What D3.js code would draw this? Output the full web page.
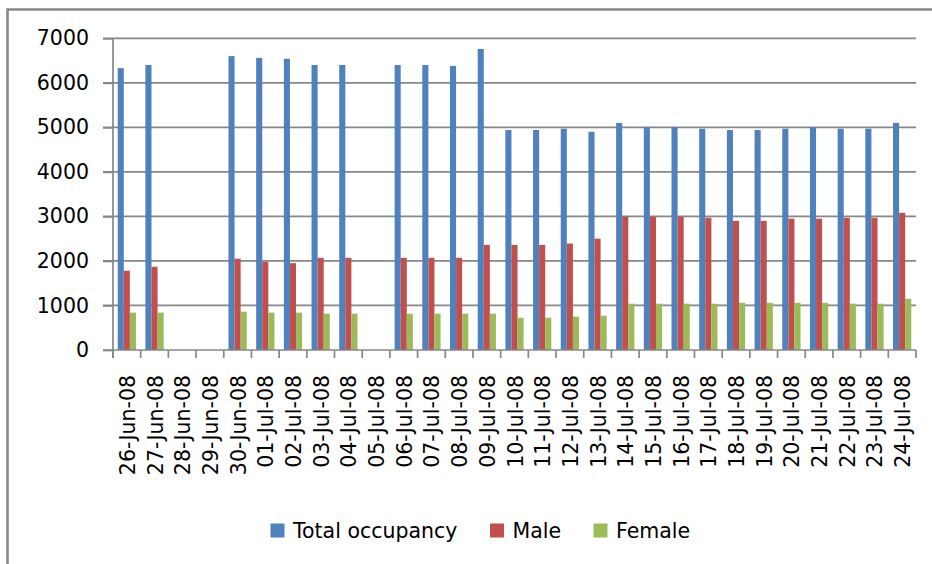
<!DOCTYPE html>
<html><head><meta charset="utf-8">
<script src="https://cdn.jsdelivr.net/npm/d3@7"></script>
<style>body{margin:0;background:#fff;}svg{display:block;}</style>
</head><body><svg id="c" width="932" height="564"></svg>
<script>
const categories = ["26-Jun-08","27-Jun-08","28-Jun-08","29-Jun-08","30-Jun-08","01-Jul-08","02-Jul-08","03-Jul-08","04-Jul-08","05-Jul-08","06-Jul-08","07-Jul-08","08-Jul-08","09-Jul-08","10-Jul-08","11-Jul-08","12-Jul-08","13-Jul-08","14-Jul-08","15-Jul-08","16-Jul-08","17-Jul-08","18-Jul-08","19-Jul-08","20-Jul-08","21-Jul-08","22-Jul-08","23-Jul-08","24-Jul-08"];
const totalOccupancy = [6330,6400,null,null,6600,6560,6540,6400,6400,null,6400,6400,6380,6760,4940,4940,4970,4900,5100,5000,5000,4970,4940,4940,4970,5000,4970,4970,5100];
const male = [1780,1870,null,null,2050,1980,1950,2070,2070,null,2070,2070,2070,2360,2360,2360,2390,2500,2990,2990,2990,2970,2900,2900,2950,2950,2970,2970,3080];
const female = [840,840,null,null,860,840,840,815,815,null,815,815,815,815,725,725,750,770,1040,1040,1040,1040,1060,1060,1060,1060,1040,1040,1150];
const seriesNames = ["Total occupancy","Male","Female"];
const yTicks = [0,1000,2000,3000,4000,5000,6000,7000];

const colors = ["#4F81BD","#C0504D","#9BBB59"];
const seriesData = [totalOccupancy, male, female];
const svg = d3.select("#c");
const font = "'DejaVu Sans', sans-serif";
const fs = 20.5;
const L = 113, R = 916, T = 38.3, B = 350;

// chart border (left and top visible)
svg.append("path").attr("d", `M7.5,564 L7.5,9.5 L932,9.5`).attr("fill","none").attr("stroke","#888").attr("stroke-width",2.6);

const x = d3.scaleBand().domain(categories).range([L, R]).paddingInner(0).paddingOuter(0);
const y = d3.scaleLinear().domain([0,7000]).range([B, T]);
const bw = x.bandwidth();
const barW = bw / 4.55;
const groupW = barW * 3;
const xs = d3.scaleBand().domain(seriesNames).range([0, groupW]);

// gridlines
svg.append("g").selectAll("line").data(yTicks.filter(d=>d>0)).join("line")
  .attr("x1", L-10).attr("x2", R).attr("y1", d=>y(d)).attr("y2", d=>y(d))
  .attr("stroke","#878787").attr("stroke-width",1.7);

// y axis
const yAxis = svg.append("g").attr("transform",`translate(${L},0)`)
  .call(d3.axisLeft(y).tickValues(yTicks).tickSize(10).tickPadding(14).tickFormat(d3.format("d")));
yAxis.select(".domain").remove();
yAxis.selectAll(".tick line").attr("stroke","#878787").attr("stroke-width",1.7);
yAxis.selectAll("text").attr("font-family",font).attr("font-size",fs).attr("fill","#000").attr("dx","0");
svg.append("line").attr("x1",L).attr("x2",L).attr("y1",T).attr("y2",B+8).attr("stroke","#878787").attr("stroke-width",1.7);

// bars
seriesData.forEach((arr, si) => {
  svg.append("g").selectAll("rect").data(categories.map((c,i)=>({c, v: arr[i]})).filter(d=>d.v!=null)).join("rect")
    .attr("x", d => x(d.c) + (bw - groupW)/2 + xs(seriesNames[si]))
    .attr("width", xs.bandwidth())
    .attr("y", d => y(d.v))
    .attr("height", d => y(0) - y(d.v))
    .attr("fill", colors[si]);
});

// x axis
const xAxis = svg.append("g").attr("transform",`translate(0,${B})`)
  .call(d3.axisBottom(x).tickSize(0).tickPadding(0));
xAxis.select(".domain").attr("stroke","#878787").attr("stroke-width",1.7).attr("d",`M${L-10},0H${R}`);
xAxis.selectAll(".tick text").attr("font-family",font).attr("font-size",fs).attr("fill","#000")
  .attr("text-anchor","end").attr("transform","translate(8,25) rotate(-90)").attr("dy","0").attr("x",0).attr("y",0);
// boundary ticks
const bounds = categories.map(c => x(c)).concat([R]);
svg.append("g").selectAll("line").data(bounds).join("line")
  .attr("x1", d=>d).attr("x2", d=>d).attr("y1", B).attr("y2", B+8)
  .attr("stroke","#878787").attr("stroke-width",1.7);

// legend
const legendX = [270.5, 490, 593.5];
const lg = svg.append("g");
seriesNames.forEach((n,i) => {
  lg.append("rect").attr("x", legendX[i]).attr("y", 523.5).attr("width", 14).attr("height", 14).attr("fill", colors[i]);
  lg.append("text").attr("x", legendX[i] + 22.5).attr("y", 538).attr("font-family",font).attr("font-size",fs).attr("fill","#000").text(n);
});
</script></body></html>
